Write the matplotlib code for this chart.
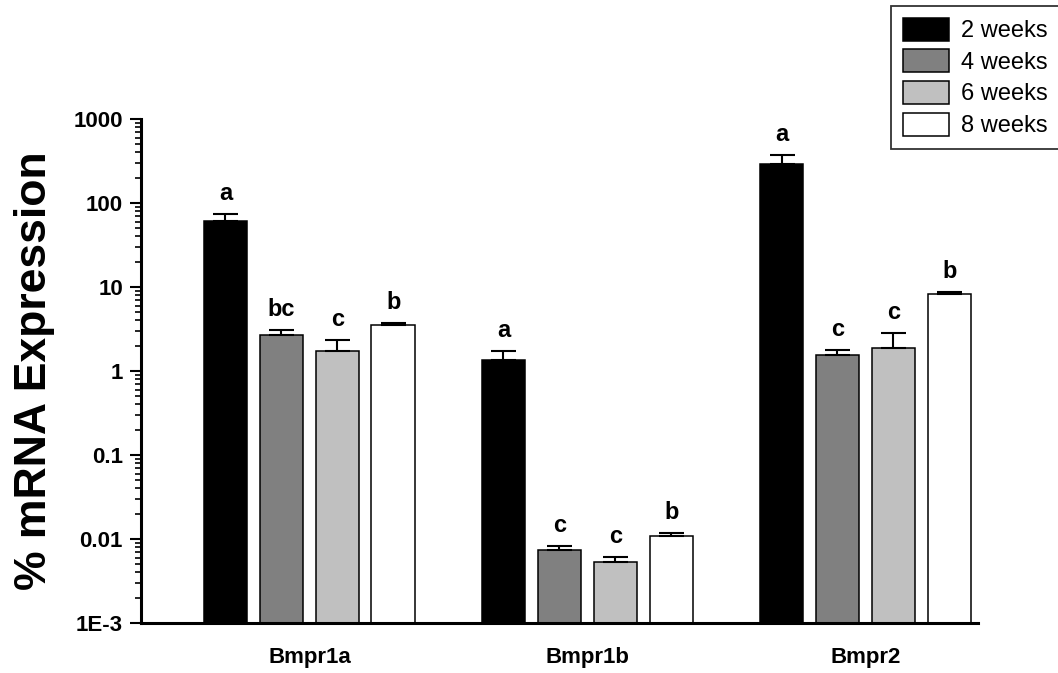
import matplotlib
matplotlib.use("Agg")
import matplotlib.pyplot as plt
import numpy as np

plt.rcParams['font.family'] = ['Liberation Sans', 'DejaVu Sans']

genes = ["Bmpr1a", "Bmpr1b", "Bmpr2"]
series = ["2 weeks", "4 weeks", "6 weeks", "8 weeks"]
colors = ["#000000", "#808080", "#c0c0c0", "#ffffff"]

mean_2w = [61.0, 1.35, 291.0]
mean_4w = [2.7, 0.0074, 1.55]
mean_6w = [1.73, 0.0053, 1.88]
mean_8w = [3.53, 0.0109, 8.25]

err_2w = [13.0, 0.38, 82.0]
err_4w = [0.37, 0.0009, 0.23]
err_6w = [0.61, 0.0008, 0.95]
err_8w = [0.20, 0.0009, 0.47]

letters_2w = ["a", "a", "a"]
letters_4w = ["bc", "c", "c"]
letters_6w = ["c", "c", "c"]
letters_8w = ["b", "b", "b"]

means = [mean_2w, mean_4w, mean_6w, mean_8w]
errs = [err_2w, err_4w, err_6w, err_8w]
letters = [letters_2w, letters_4w, letters_6w, letters_8w]

fig = plt.figure(figsize=(10.58, 6.73), dpi=100)
ax = fig.add_axes([141/1058, 1-623/673, (978-141)/1058, (623-119)/673])

x = np.arange(len(genes))
step = 0.2014
width = 0.158
offsets = (np.arange(4) - 1.5) * step

ymin = 1e-3
for i in range(4):
    pos = x + offsets[i]
    m = np.array(means[i])
    e = np.array(errs[i])
    ax.bar(pos, m - ymin, bottom=ymin, width=width, color=colors[i],
           edgecolor="black", linewidth=1.1, label=series[i], zorder=2)
    ax.errorbar(pos, m, yerr=[np.zeros_like(e), e], fmt='none', ecolor='black',
                elinewidth=1.5, capsize=9, capthick=1.5, zorder=3)
    for p, v, ee, t in zip(pos, m, e, letters[i]):
        ax.annotate(t, xy=(p, v + ee), xytext=(0, 10), textcoords='offset points',
                    ha='center', va='baseline', fontsize=17, fontweight='bold')

ax.set_yscale('log')
ax.set_ylim(1e-3, 1000)
ax.set_xlim(-0.606, 2.4047)
ax.set_yticks([1e-3, 1e-2, 1e-1, 1, 10, 100, 1000])
ax.set_yticklabels(["1E-3", "0.01", "0.1", "1", "10", "100", "1000"])
ax.set_xticks(x)
ax.set_xticklabels(genes)

for lab in ax.get_yticklabels():
    lab.set_fontweight('bold')
    lab.set_fontsize(16)
for lab in ax.get_xticklabels():
    lab.set_fontweight('bold')
    lab.set_fontsize(16)

ax.tick_params(axis='y', which='major', length=8, width=1.5, direction='out', pad=5)
ax.tick_params(axis='y', which='minor', length=4, width=1.2, direction='out')
ax.tick_params(axis='x', which='both', length=0, pad=17)

for s in ['top', 'right']:
    ax.spines[s].set_visible(False)
for s in ['left', 'bottom']:
    ax.spines[s].set_linewidth(2.2)
    ax.spines[s].set_zorder(4)

ax.set_ylabel("% mRNA Expression", fontsize=32, fontweight='bold')
ax.yaxis.set_label_coords(-0.103, 0.5)

leg = fig.legend(loc='upper left', bbox_to_anchor=(891/1058, 1-6/673),
                 bbox_transform=fig.transFigure, fontsize=17, frameon=True,
                 fancybox=False, edgecolor='black', borderaxespad=0,
                 handlelength=1.95, handleheight=1.12, labelspacing=0.3,
                 borderpad=0.5, handletextpad=0.5)
leg.get_frame().set_linewidth(1.3)

fig.savefig("out.png", dpi=100)
